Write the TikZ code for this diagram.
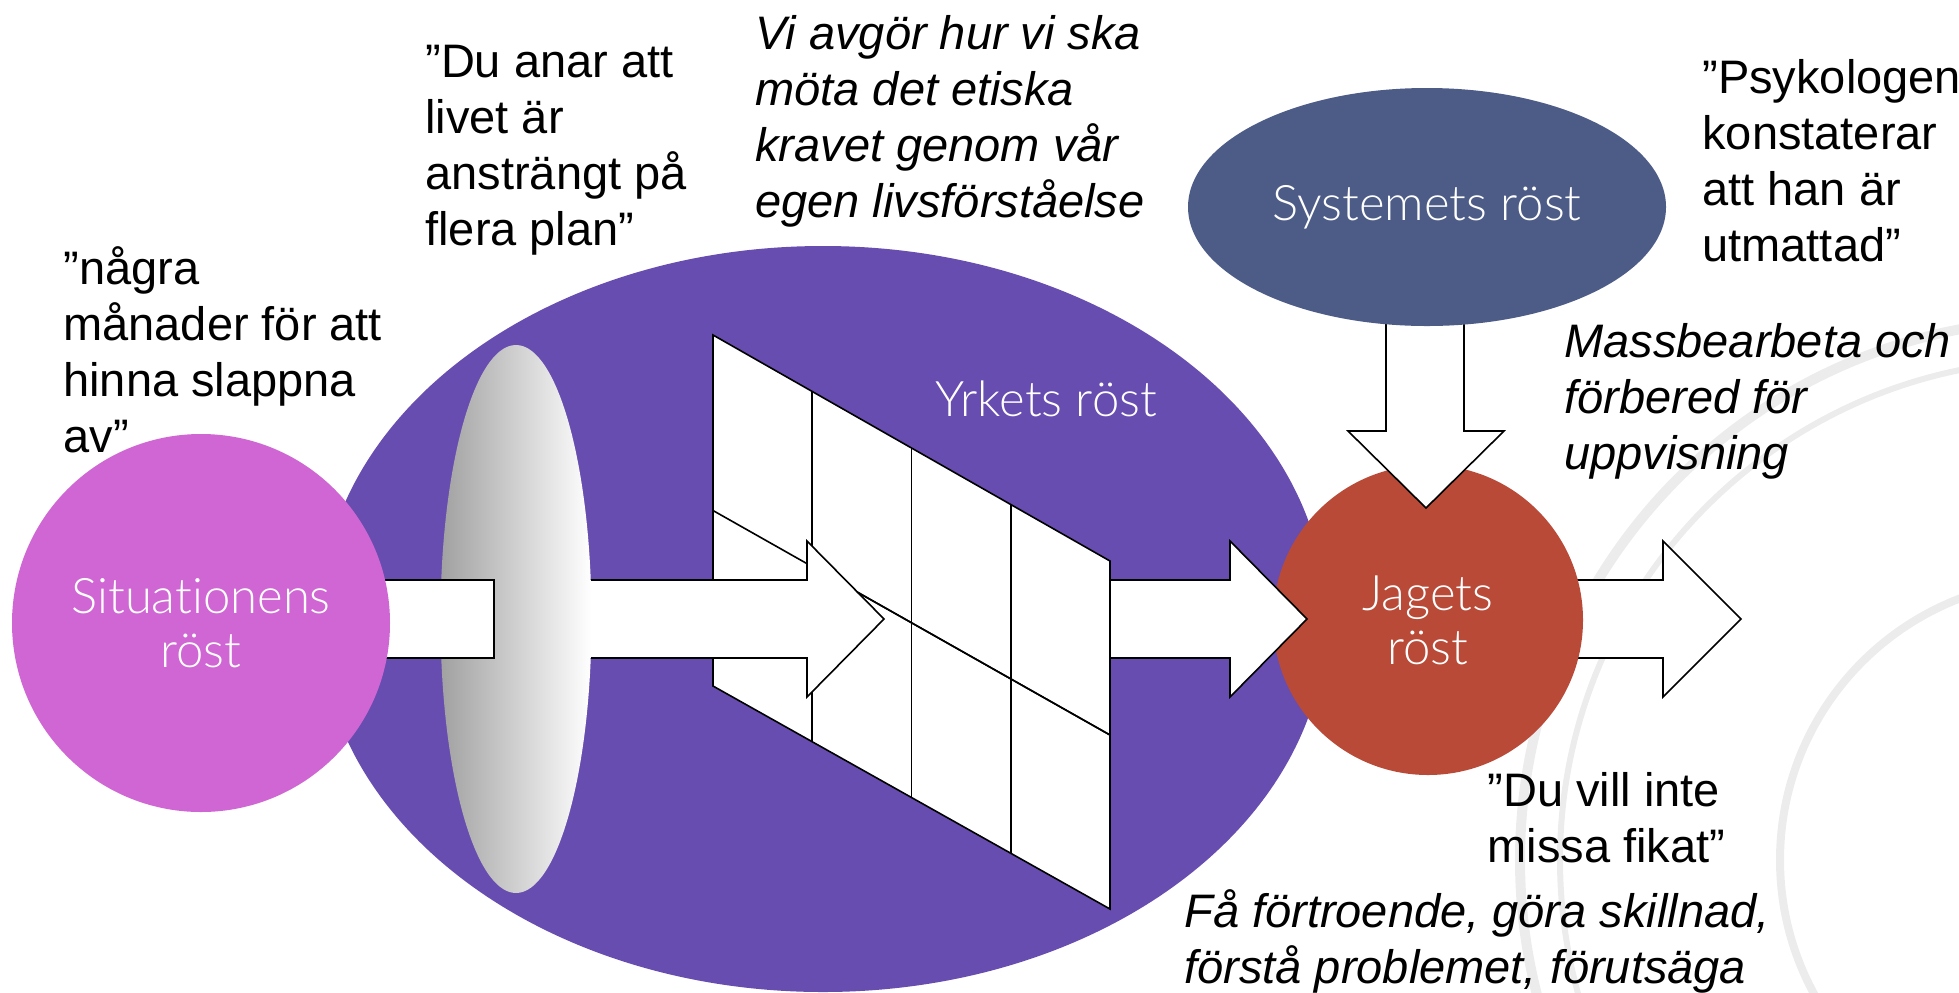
\documentclass[tikz,border=0pt]{standalone}
\usepackage{fontspec}
\setmainfont{Liberation Sans}
\IfFontExistsTF{Lato Light}{\newfontfamily\lblfont[Ligatures=NoCommon]{Lato Light}}{%
  \IfFontExistsTF{Open Sans Light}{\newfontfamily\lblfont{Open Sans Light}}{\newfontfamily\lblfont[Ligatures=NoCommon]{Lato}}}
\usetikzlibrary{shapes.geometric,calc}
\definecolor{yrkcol}{RGB}{103,77,176}
\definecolor{sitcol}{RGB}{207,102,211}
\definecolor{syscol}{RGB}{77,92,135}
\definecolor{jagcol}{RGB}{184,74,55}
\definecolor{wmcol}{RGB}{236,236,236}
\tikzset{
  blockarrow/.style={fill=white, draw=black, line width=0.8pt, line join=miter},
  voice/.style={draw=none, inner sep=0pt, text=white, align=center,
    font=\lblfont\fontsize{24.5}{27}\selectfont},
  annot/.style={anchor=base west, inner sep=0pt, align=left,
    font=\fontsize{23.5}{28}\selectfont},
  annotit/.style={annot, font=\fontsize{23.5}{28}\selectfont\itshape},
  gridline/.style={draw=black, line width=0.8pt},
  seal/.style={draw=wmcol},
}
\begin{document}
\begin{tikzpicture}[x=0.5pt, y=-0.5pt]
\useasboundingbox (0,0) rectangle (1959,992);
\clip (0,0) rectangle (1959,992);

% faint seal watermark
\coordinate (sealc) at (2060,860);
\draw[seal, line width=5pt] (sealc) circle [radius=540];
\draw[seal, line width=3pt] (sealc) circle [radius=500];
\draw[seal, line width=4pt] (sealc) circle [radius=280];

% Yrkets rost
\node[ellipse, fill=yrkcol, draw=none, inner sep=0pt, minimum width=503pt, minimum height=373pt] (yrk) at (823,619) {};
\node[voice, anchor=base] (yrklbl) at (1046,416) {Yrkets röst};

% output arrow (behind Jagets)
\draw[blockarrow] (1500,580) -- (1663,580) -- (1663,541) -- (1741,619) -- (1663,697) -- (1663,658) -- (1500,658) -- cycle;

% Jagets rost
\node[circle, fill=jagcol, voice, minimum size=155pt] (jag) at (1428,620) {Jagets\\röst};

% arrow from grid to Jagets
\draw[blockarrow] (1110,580) -- (1230,580) -- (1230,541) -- (1307,619) -- (1230,697) -- (1230,658) -- (1110,658) -- cycle;

% grid plane
\coordinate (gTL) at (713,335);
\coordinate (gTR) at (1110,561);
\coordinate (gBR) at (1110,909);
\coordinate (gBL) at (713,686);
\draw[gridline, fill=white] (gTL) -- (gTR) -- (gBR) -- (gBL) -- cycle;
\foreach \t in {0.25,0.5,0.75}
  \draw[gridline] ($(gTL)!\t!(gTR)$) -- ($(gBL)!\t!(gBR)$);
\coordinate (gML) at ($(gTL)!0.5!(gBL)$);
\coordinate (gMR) at ($(gTR)!0.5!(gBR)$);
\draw[gridline] (gML) -- (gMR);

% main arrow through the plane
\draw[blockarrow] (500,580) -- (807,580) -- (807,541) -- (884,619) -- (807,697) -- (807,658) -- (500,658) -- cycle;
\draw[gridline] ($(gML)!0.3627!(gMR)$) -- (gMR);

% lens
\node[ellipse, draw=none, inner sep=0pt, minimum width=75.5pt, minimum height=274pt,
      left color=black!37, right color=white] (lens) at (516,619) {};

% tail from Situationens
\node[rectangle, fill=white, draw=black, line width=0.8pt, inner sep=0pt,
      minimum width=97pt, minimum height=39pt] (tail) at (397,619) {};

% Situationens rost
\node[circle, fill=sitcol, voice, minimum size=189pt] (sit) at (201,623) {Situationens\\röst};

% down arrow from Systemets
\draw[blockarrow] (1386,300) -- (1386,431) -- (1348,431) -- (1426,508) -- (1504,431) -- (1464,431) -- (1464,300) -- cycle;

% Systemets rost
\node[ellipse, fill=syscol, voice, minimum width=239pt, minimum height=119pt] (sys) at (1427,207) {Systemets röst};

% annotations (anchored at the baseline of the last line)
\node[annot] (a1) at (63,452) {”några\\månader för att\\hinna slappna\\av”};
\node[annot] (a2) at (425,245) {”Du anar att\\livet är\\ansträngt på\\flera plan”};
\node[annotit] (a3) at (755,217) {Vi avgör hur vi ska\\möta det etiska\\kravet genom vår\\egen livsförståelse};
\node[annot] (a4) at (1702,261) {”Psykologen\\konstaterar\\att han är\\utmattad”};
\node[annotit] (a5) at (1564,469) {Massbearbeta och\\förbered för\\uppvisning};
\node[annot] (a6) at (1487,862) {”Du vill inte\\missa fikat”};
\node[annotit] (a7) at (1184,983) {Få förtroende, göra skillnad,\\förstå problemet, förutsäga};
\end{tikzpicture}
\end{document}
